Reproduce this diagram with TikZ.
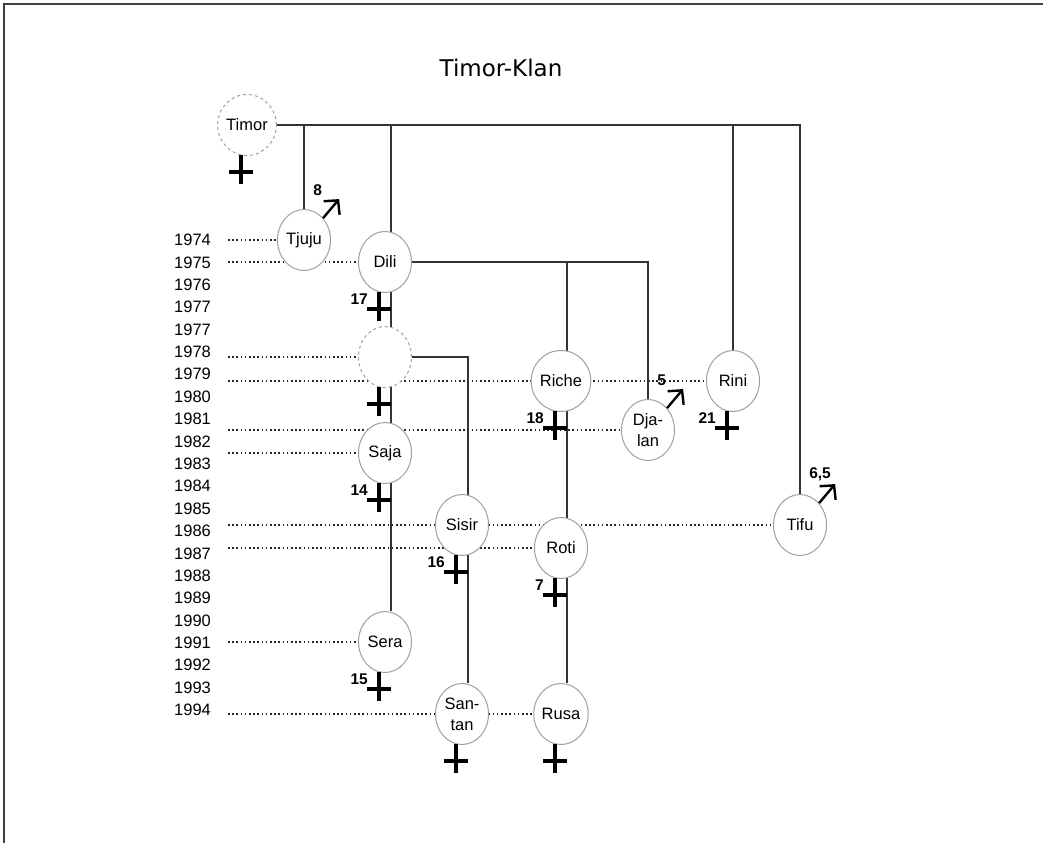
\documentclass[tikz,border=0pt]{standalone}
\usepackage{fontspec}
\setmainfont{Liberation Sans}
\newfontfamily\titlefont{DejaVu Sans}
\usetikzlibrary{shapes.geometric,arrows.meta,calc,backgrounds}

\begin{document}
\begin{tikzpicture}[x=1pt,y=-1pt,
  pers/.style={
    ellipse, draw=gray!75, line width=1pt, fill=white,
    minimum width=53pt, minimum height=61pt, inner sep=0pt,
    font=\fontsize{16.5}{21}\selectfont, align=center
  },
  gone/.style={pers, dashed},
  yr/.style={anchor=west, inner sep=0pt, font=\fontsize{16.5}{18}\selectfont},
  kin/.style={line width=1.2pt, gray!40!black},
  dot/.style={line width=1.6pt, black!85, dash pattern=on 1.5pt off 2.7pt},
  cr/.style={line width=3.4pt},
  male/.style={line width=2.4pt, -{Straight Barb[length=10pt,width=21pt]}},
  num/.style={inner sep=0pt, font=\fontsize{15.5}{17}\selectfont\bfseries},
]
\useasboundingbox (0,0) rectangle (1043,843);
\draw[line width=2.5pt, gray!50!black] (4,843) -- (4,4) -- (1043,4);

\node[font=\titlefont\fontsize{23}{26}\selectfont, anchor=base] (title) at (501,77) {Timor-Klan};

\foreach \yr [count=\i from 0] in {1974,1975,1976,1977,1977,1978,1979,1980,1981,1982,1983,1984,1985,1986,1987,1988,1989,1990,1991,1992,1993,1994}
  \node[yr] (y\i) at (174,240+22.38*\i) {\yr};

\node[gone] (timor)  at (247,125) {Timor};
\node[pers] (tjuju)  at (304,240) {Tjuju};
\node[pers] (dili)   at (385,262) {Dili};
\node[gone] (lost)   at (385,357) {};
\node[pers] (saja)   at (385,453) {Saja};
\node[pers] (sera)   at (385,642) {Sera};
\node[pers] (riche)  at (561,381) {Riche};
\node[pers] (djalan) at (648,430) {Dja-\\lan};
\node[pers] (rini)   at (733,381) {Rini};
\node[pers] (sisir)  at (462,525) {Sisir};
\node[pers] (roti)   at (561,548) {Roti};
\node[pers] (tifu)   at (800,525) {Tifu};
\node[pers] (santan) at (462,714) {San-\\tan};
\node[pers] (rusa)   at (561,714) {Rusa};

\begin{scope}[on background layer]
  \coordinate (l) at (228,0);
  \foreach \n in {tjuju,dili,lost,rini,djalan,saja,tifu,roti,sera,rusa}
    \draw[dot] (l |- \n) -- (\n);
  \draw[kin] (timor.east) -| (tifu.north);
  \draw[kin] (tjuju.north) -- (tjuju.north |- timor.east);
  \draw[kin] (rini.north) -- (rini.north |- timor.east);
  \draw[kin] ($(sera.north)+(6,0)$) -- ($(sera.north |- timor.east)+(6,0)$);
  \draw[kin] (dili.east) -| (djalan.north);
  \draw[kin] ($(rusa.north)+(6,0)$) -- ($(rusa.north |- dili.east)+(6,0)$);
  \draw[kin] (lost.east) -| ($(santan.north)+(6,0)$);
\end{scope}

\foreach \n in {timor,dili,lost,saja,sera,riche,rini,sisir,roti,santan,rusa}
  \draw[cr] ($(\n.south)+(-6,-1)$) -- ++(0,29) ($(\n.south)+(-18,16)$) -- ++(24,0);
\foreach \n/\a in {dili/17,saja/14,sera/15,riche/18,rini/21,sisir/16,roti/7}
  \node[num, anchor=south east] (n\n) at ($(\n.south)+(-17,12)$) {\a};

\foreach \n/\a in {tjuju/8,djalan/5,tifu/{6,5}}{
  \draw[male] (\n.north east) -- ++(16,-19);
  \node[num, anchor=south west] (m\n) at ($(\n.north east)+(-10,-22)$) {\a};
}
\end{tikzpicture}
\end{document}
